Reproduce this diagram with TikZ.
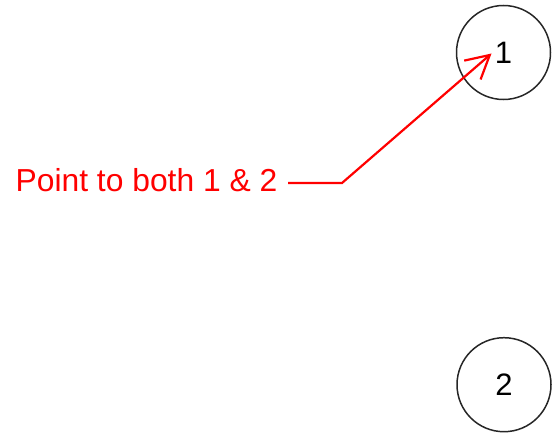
\documentclass[tikz,border=0pt]{standalone}
\usepackage{fontspec}
\setmainfont{Liberation Sans}
\usetikzlibrary{arrows.meta}
\begin{document}
\begin{tikzpicture}[x=1pt,y=-1pt,
  circ/.style={draw=black!85, line width=1.5pt, circle, minimum size=94pt, inner sep=0pt, font=\fontsize{31}{37}\selectfont},
  lbl/.style={text=red, font=\fontsize{31.8}{38}\selectfont, inner sep=0pt},
  conn/.style={draw=red, line width=2.2pt}]
\useasboundingbox (0,0) rectangle (553,433);
\node[circ] (n1) at (503.5,52.5) {1};
\node[circ] (n2) at (504,384.7) {2};
\node[lbl, anchor=base west] (t) at (15.5,191.5) {Point to both 1 \& 2};
\coordinate (s) at (288,183);
\coordinate (b) at (342,183);
\coordinate (tip) at (491.5,53.5);
\draw[conn, -{Straight Barb[length=23pt,width=25pt]}] (s) -- (b) -- (tip);
\end{tikzpicture}
\end{document}
